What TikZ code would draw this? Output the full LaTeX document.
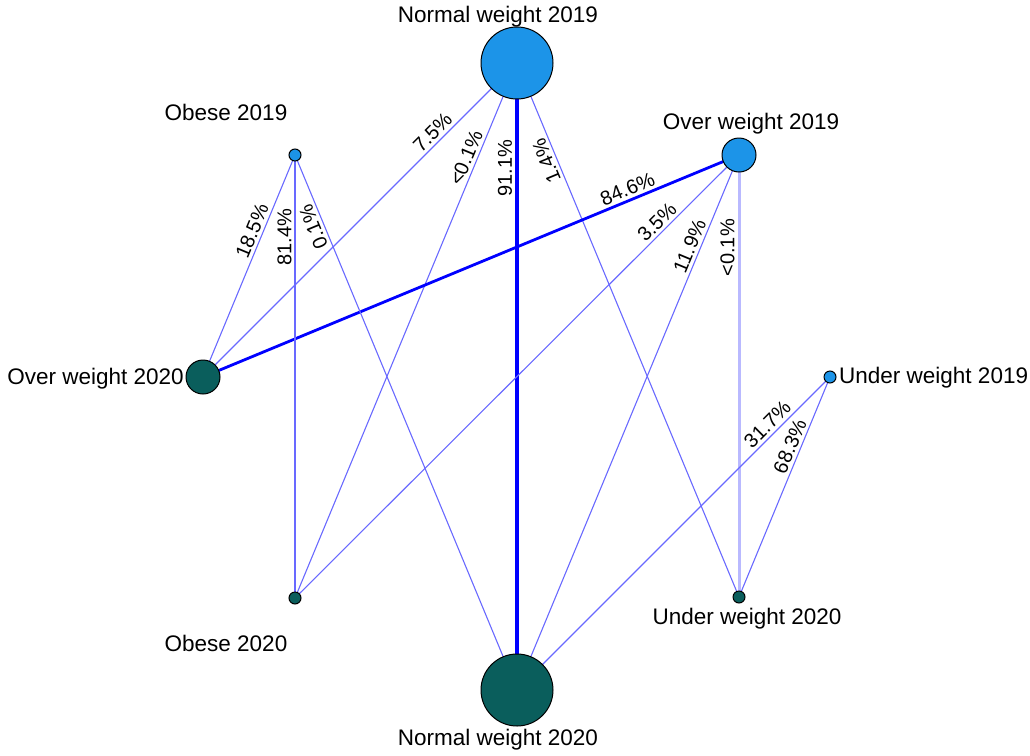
\documentclass[tikz,border=0pt]{standalone}
\usepackage{fontspec}
\setmainfont{Liberation Sans}
\usetikzlibrary{backgrounds}
\definecolor{nodeA}{RGB}{28,148,232}
\definecolor{nodeB}{RGB}{10,94,92}
\definecolor{thinedge}{RGB}{105,105,255}
\definecolor{strongedge}{RGB}{0,0,255}
\definecolor{paleedge}{RGB}{185,185,255}
\tikzset{
  yr19/.style={circle,draw=black,line width=1pt,fill=nodeA,inner sep=0pt},
  yr20/.style={circle,draw=black,line width=1pt,fill=nodeB,inner sep=0pt},
  big/.style={minimum size=72pt},
  mid/.style={minimum size=34pt},
  small/.style={minimum size=12pt},
  nlabel/.style={font=\fontsize{22.5}{25}\selectfont,inner sep=0pt,text=black},
  thinline/.style={draw=thinedge,line width=1.1pt},
  thickline/.style={draw=strongedge,line width=4pt},
  medline/.style={draw=strongedge,line width=2.8pt},
  paleline/.style={draw=paleedge,line width=3pt},
  pct/.style={sloped,allow upside down,above=2pt,inner sep=1pt,font=\fontsize{20}{22}\selectfont,text=black}
}
\begin{document}
\begin{tikzpicture}[x=1pt,y=-1pt]
\useasboundingbox (0,0) rectangle (1030,755);
% nodes
\node[yr19,big]   (n19) at (517,63) {};
\node[yr19,mid]   (ov19) at (739,155) {};
\node[yr19,small] (ob19) at (295,155) {};
\node[yr19,small] (u19) at (830,377) {};
\node[yr20,big]   (n20) at (517,690) {};
\node[yr20,mid]   (ov20) at (203,377) {};
\node[yr20,small] (ob20) at (295,598) {};
\node[yr20,small] (u20) at (739,597) {};
% node labels
\node[nlabel] (tn19) at (498,17) {Normal weight 2019};
\node[nlabel] (tov19) at (751,124) {Over weight 2019};
\node[nlabel] (tob19) at (226,112) {Obese 2019};
\node[nlabel,anchor=west] (tu19) at (839,378) {Under weight 2019};
\node[nlabel,anchor=east] (tov20) at (184,379) {Over weight 2020};
\node[nlabel] (tob20) at (226,643) {Obese 2020};
\node[nlabel] (tu20) at (747,619) {Under weight 2020};
\node[nlabel] (tn20) at (498,740) {Normal weight 2020};
% edges
\begin{scope}[on background layer]
\draw[thickline] (n20.center) -- node[pct,pos=0.832] (l1) {91.1\%} (n19.center);
\draw[thinline] (ov20.center) -- node[pct,pos=0.755] (l2) {7.5\%} (n19.center);
\draw[thinline] (ob20.center) -- node[pct,pos=0.815] (l3) {<0.1\%} (n19.center);
\draw[thinline] (u20.center) -- node[pct,pos=0.824] (l4) {1.4\%} (n19.center);
\draw[medline] (ov20.center) -- node[pct,pos=0.8] (l5) {84.6\%} (ov19.center);
\draw[thinline] (ob20.center) -- node[pct,pos=0.832] (l6) {3.5\%} (ov19.center);
\draw[thinline] (n20.center) -- node[pct,pos=0.822] (l7) {11.9\%} (ov19.center);
\draw[paleline] (u20.center) -- node[pct,pos=0.79] (l8) {<0.1\%} (ov19.center);
\draw[thinline] (ov20.center) -- node[pct,pos=0.64] (l9) {18.5\%} (ob19.center);
\draw[thinline] (ob20.center) -- node[pct,pos=0.815] (l10) {81.4\%} (ob19.center);
\draw[thinline] (n20.center) -- node[pct,pos=0.873] (l11) {0.1\%} (ob19.center);
\draw[thinline] (n20.center) -- node[pct,pos=0.824] (l12) {31.7\%} (u19.center);
\draw[thinline] (u20.center) -- node[pct,pos=0.667] (l13) {68.3\%} (u19.center);
\end{scope}
\end{tikzpicture}
\end{document}
